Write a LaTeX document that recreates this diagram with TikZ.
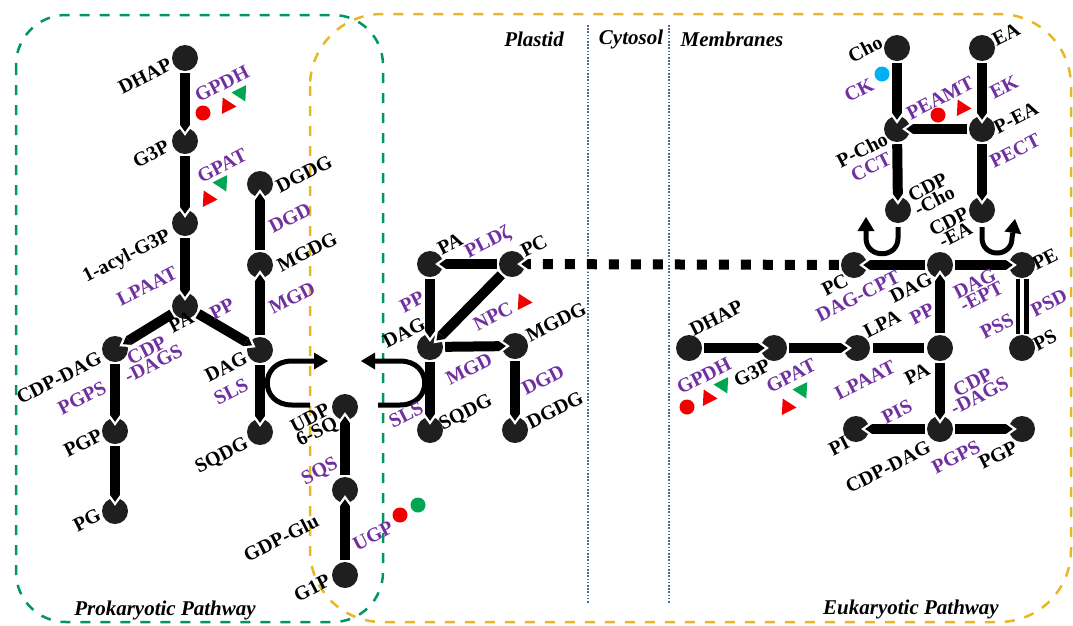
\documentclass[tikz,border=0pt]{standalone}
\usepackage{fontspec}
\setmainfont{Liberation Serif}
\usetikzlibrary{arrows.meta,shapes.geometric}
\definecolor{enz}{RGB}{112,48,160}
\definecolor{prok}{RGB}{0,150,100}
\definecolor{euk}{RGB}{232,182,40}
\definecolor{sep}{RGB}{70,110,150}
\definecolor{mred}{RGB}{240,0,0}
\definecolor{mgreen}{RGB}{0,166,80}
\definecolor{mblue}{RGB}{0,176,240}
\begin{document}
\begin{tikzpicture}[x=1pt,y=-1pt,
  met/.style={circle,fill=black!88,minimum size=26pt,inner sep=0pt},
  lbl/.style={font=\bfseries\fontsize{20}{15}\selectfont,rotate=27,inner sep=0pt,align=center},
  enzl/.style={lbl,text=enz},
  title/.style={font=\bfseries\itshape\fontsize{21}{24}\selectfont,inner sep=0pt},
  bar/.style={draw=black,line width=10pt,shorten <=2pt,shorten >=-4pt,
    -{Triangle[length=7pt,width=10pt,line width=0pt]},
    preaction={draw=white,line width=15pt,shorten <=2pt,shorten >=-8pt,
      -{Triangle[length=10.5pt,width=15pt,line width=0pt]}}},
  plainbar/.style={draw=black,line width=10pt,shorten <=3pt,shorten >=3pt},
  linkbar/.style={draw=black,line width=10pt,dash pattern=on 10pt off 12pt,shorten <=2pt,shorten >=-4pt,
    -{Triangle[length=7pt,width=10pt,line width=0pt]},
    preaction={draw=white,line width=15pt,dash pattern=on 10pt off 12pt,shorten <=2pt,shorten >=-8pt,
      -{Triangle[length=10.5pt,width=15pt,line width=0pt]}}},
  dbl/.style={draw=black,line width=4.5pt,double=white,double distance=4pt,shorten <=1pt,shorten >=1pt},
  turn/.style={draw=black,line width=5pt,-{Triangle[length=14pt,width=17pt,line width=0pt]}},
  box/.style={line width=2.5pt,dash pattern=on 10pt off 10pt},
  dotsep/.style={draw=sep,line width=1.6pt,dash pattern=on 1.6pt off 1.6pt},
  dot/.style={circle,inner sep=0pt,minimum size=15pt},
  tup/.style={regular polygon,regular polygon sides=3,inner sep=0pt,minimum size=19pt,shape border rotate=27},
  tdown/.style={regular polygon,regular polygon sides=3,inner sep=0pt,minimum size=19pt,shape border rotate=207},
]
\useasboundingbox (0,0) rectangle (1073,625);

% compartments
\draw[box,draw=prok,rounded corners=50pt] (16,15) rectangle (383,622);
\draw[box,draw=euk,rounded corners=72pt] (310,14) rectangle (1071,622);
\draw[dotsep] (588,25) -- (588,603);
\draw[dotsep] (669,25) -- (669,603);

\node[title] (tPlastid) at (534,39) {Plastid};
\node[title] (tCytosol) at (631,39) {Cytosol};
\node[title] (tMembr) at (732,39) {Membranes};
\node[title] (tProk) at (165,610) {Prokaryotic Pathway};
\node[title] (tEuk) at (911,609) {Eukaryotic Pathway};

% metabolites: prokaryotic branch
\node[met] (dhapL) at (185,58) {};
\node[met] (g3pL) at (185,141) {};
\node[met] (acylL) at (185,223) {};
\node[met] (paL) at (185,306) {};
\node[met] (cdpdagL) at (115,349) {};
\node[met] (pgpL) at (115,431) {};
\node[met] (pgL) at (115,511) {};
\node[met] (dgdgL) at (260,184) {};
\node[met] (mgdgL) at (260,265) {};
\node[met] (dagL) at (260,350) {};
\node[met] (sqdgL) at (260,432) {};
\node[met] (udp) at (345,407) {};
\node[met] (gdpglu) at (345,490) {};
\node[met] (g1p) at (345,575) {};

% metabolites: plastid (eukaryotic)
\node[met] (paP) at (430,264) {};
\node[met] (pcP) at (512,264) {};
\node[met] (dagP) at (430,347) {};
\node[met] (mgdgP) at (515,346) {};
\node[met] (sqdgP) at (430,430) {};
\node[met] (dgdgP) at (515,430) {};

% metabolites: membranes
\node[met] (cho) at (897,48) {};
\node[met] (ea) at (982,48) {};
\node[met] (pcho) at (897,129) {};
\node[met] (pea) at (982,129) {};
\node[met] (cdpcho) at (898,210) {};
\node[met] (cdpea) at (982,210) {};
\node[met] (pcM) at (854,265) {};
\node[met] (dagM) at (940,265) {};
\node[met] (pe) at (1022,265) {};
\node[met] (ps) at (1022,348) {};
\node[met] (dhapM) at (689,348) {};
\node[met] (g3pM) at (774,348) {};
\node[met] (lpa) at (857,348) {};
\node[met] (paM) at (940,348) {};
\node[met] (pi) at (856,429) {};
\node[met] (cdpdagM) at (940,429) {};
\node[met] (pgpM) at (1022,429) {};

% reactions: prokaryotic branch
\draw[bar] (dhapL) -- (g3pL);
\draw[bar] (g3pL) -- (acylL);
\draw[bar] (acylL) -- (paL);
\draw[bar] (paL) -- (cdpdagL);
\draw[bar] (paL) -- (dagL);
\draw[bar] (cdpdagL) -- (pgpL);
\draw[bar] (pgpL) -- (pgL);
\draw[bar] (dagL) -- (mgdgL);
\draw[bar] (mgdgL) -- (dgdgL);
\draw[bar] (dagL) -- (sqdgL);
\draw[bar] (g1p) -- (gdpglu);
\draw[bar] (gdpglu) -- (udp);

% reactions: plastid
\draw[linkbar] (pcM) -- (pcP);
\draw[bar] (pcP) -- (paP);
\draw[bar] (paP) -- (dagP);
\draw[bar] (pcP) -- (dagP);
\draw[bar] (dagP) -- (mgdgP);
\draw[bar] (mgdgP) -- (dgdgP);
\draw[bar] (dagP) -- (sqdgP);

% reactions: membranes
\draw[bar] (cho) -- (pcho);
\draw[bar] (ea) -- (pea);
\draw[bar] (pea) -- (pcho);
\draw[bar] (pcho) -- (cdpcho);
\draw[bar] (pea) -- (cdpea);
\draw[bar] (dagM) -- (pcM);
\draw[bar] (dagM) -- (pe);
\draw[bar] (paM) -- (dagM);
\draw[dbl] (pe) -- (ps);
\draw[bar] (dhapM) -- (g3pM);
\draw[bar] (g3pM) -- (lpa);
\draw[plainbar] (lpa) -- (paM);
\draw[bar] (paM) -- (cdpdagM);
\draw[bar] (cdpdagM) -- (pi);
\draw[bar] (cdpdagM) -- (pgpM);

% co-substrate turns
\coordinate (slsA0) at (310,405);
\coordinate (slsA1) at (328,361);
\coordinate (slsB0) at (378,405);
\coordinate (slsB1) at (361,361);
\coordinate (cctA0) at (898,227);
\coordinate (cctA1) at (866,217);
\coordinate (ectA0) at (982,227);
\coordinate (ectA1) at (1015,219);
\draw[turn] (slsA0) -- (292,405) .. controls (259,405) and (259,361) .. (292,361) -- (slsA1);
\draw[turn] (slsB0) -- (400,405) .. controls (433,405) and (433,361) .. (400,361) -- (slsB1);
\draw[turn] (cctA0) -- (898,238) .. controls (898,259) and (866,259) .. (866,238) -- (cctA1);
\draw[turn] (ectA0) -- (982,238) .. controls (982,258) and (1012,258) .. (1012,238) -- (ectA1);

% labels: prokaryotic branch
\node[lbl] (lDhapL) at (145,76) {DHAP};
\node[enzl] (eGpdhL) at (222,84) {GPDH};
\node[lbl] (lG3pL) at (151,154) {G3P};
\node[enzl] (eGpatL) at (222,166) {GPAT};
\node[lbl] (lDgdgL) at (304,174) {DGDG};
\node[enzl] (eDgdL) at (290,218) {DGD};
\node[lbl] (lAcyl) at (127,257) {1-acyl-G3P};
\node[lbl] (lMgdgL) at (307,252) {MGDG};
\node[enzl] (eLpaatL) at (147,286) {LPAAT};
\node[enzl] (ePpL) at (222,309) {PP};
\node[enzl] (eMgdL) at (292,298) {MGD};
\node[lbl] (lCdpdagL) at (59,378) {CDP-DAG};
\node[lbl] (lPaL) at (181,322) {PA};
\node[enzl] (eCdsL) at (150,357) {CDP\\-DAGS};
\node[lbl] (lDagL) at (226,367) {DAG};
\node[enzl] (ePgpsL) at (82,398) {PGPS};
\node[enzl] (eSlsL) at (231,392) {SLS};
\node[lbl] (lPgpL) at (83,443) {PGP};
\node[lbl] (lSqdgL) at (222,456) {SQDG};
\node[lbl] (lPgL) at (87,520) {PG};
\node[lbl] (lUdp) at (314,426) {UDP\\6-SQ};
\node[enzl] (eSqs) at (320,472) {SQS};
\node[lbl] (lGdp) at (281,538) {GDP-Glu};
\node[lbl] (lG1p) at (312,588) {G1P};
\node[enzl] (eUgp) at (373,536) {UGP};

% labels: plastid
\node[lbl] (lPaP) at (450,244) {PA};
\node[enzl] (ePld) at (488,243) {PLDζ};
\node[lbl] (lPcP) at (534,246) {PC};
\node[enzl] (ePpP) at (412,302) {PP};
\node[lbl] (lDagP) at (404,333) {DAG};
\node[enzl] (eNpc) at (493,316) {NPC};
\node[lbl] (lMgdgP) at (556,322) {MGDG};
\node[enzl] (eMgdP) at (469,369) {MGD};
\node[enzl] (eDgdP) at (543,380) {DGD};
\node[enzl] (eSlsP) at (406,415) {SLS};
\node[lbl] (lSqdgP) at (466,413) {SQDG};
\node[lbl] (lDgdgP) at (555,410) {DGDG};

% labels: membranes
\node[lbl] (lCho) at (865,49) {Cho};
\node[lbl] (lEa) at (1006,34) {EA};
\node[enzl] (eCk) at (859,90) {CK};
\node[enzl] (ePeamt) at (940,98) {PEAMT};
\node[enzl] (eEk) at (1004,87) {EK};
\node[lbl] (lPcho) at (862,150) {P-Cho};
\node[lbl] (lPea) at (1016,118) {P-EA};
\node[enzl] (eCct) at (871,167) {CCT};
\node[enzl] (ePect) at (1015,151) {PECT};
\node[lbl] (lCdpcho) at (931,194) {CDP\\-Cho};
\node[lbl] (lCdpea) at (952,228) {CDP\\-EA};
\node[lbl] (lPcM) at (835,285) {PC};
\node[enzl] (eDagcpt) at (858,296) {DAG-CPT};
\node[lbl] (lDagM) at (911,288) {DAG};
\node[enzl] (eDagept) at (978,290) {DAG\\-EPT};
\node[lbl] (lPe) at (1045,259) {PE};
\node[enzl] (ePsd) at (1049,303) {PSD};
\node[enzl] (ePss) at (997,326) {PSS};
\node[lbl] (lPs) at (1045,340) {PS};
\node[lbl] (lLpa) at (882,324) {LPA};
\node[enzl] (ePpM) at (922,314) {PP};
\node[lbl] (lDhapM) at (716,318) {DHAP};
\node[enzl] (eGpdhM) at (704,376) {GPDH};
\node[lbl] (lG3pM) at (752,373) {G3P};
\node[enzl] (eGpatM) at (791,376) {GPAT};
\node[enzl] (eLpaatM) at (865,380) {LPAAT};
\node[lbl] (lPaM) at (917,374) {PA};
\node[enzl] (eCdsM) at (976,389) {CDP\\-DAGS};
\node[enzl] (ePis) at (897,412) {PIS};
\node[lbl] (lPi) at (839,446) {PI};
\node[lbl] (lCdpdagM) at (888,467) {CDP-DAG};
\node[enzl] (ePgpsM) at (956,457) {PGPS};
\node[lbl] (lPgpM) at (998,455) {PGP};

% regulation marks
\node[dot,fill=mred] (m1) at (203,113) {};
\node[tup,fill=mred] (m2) at (227,106) {};
\node[tdown,fill=mgreen] (m3) at (241,93) {};
\node[tup,fill=mred] (m4) at (208,199) {};
\node[tdown,fill=mgreen] (m5) at (222,183) {};
\node[dot,fill=mred] (m6) at (400,515) {};
\node[dot,fill=mgreen] (m7) at (418,505) {};
\node[tup,fill=mred] (m8) at (523,302) {};
\node[dot,fill=mblue] (m9) at (882,74) {};
\node[dot,fill=mred] (m10) at (938,115) {};
\node[tup,fill=mred] (m11) at (962,108) {};
\node[dot,fill=mred] (m12) at (687,407) {};
\node[tup,fill=mred] (m13) at (708,398) {};
\node[tdown,fill=mgreen] (m14) at (723,385) {};
\node[tup,fill=mred] (m15) at (787,407) {};
\node[tdown,fill=mgreen] (m16) at (802,390) {};
\end{tikzpicture}
\end{document}
